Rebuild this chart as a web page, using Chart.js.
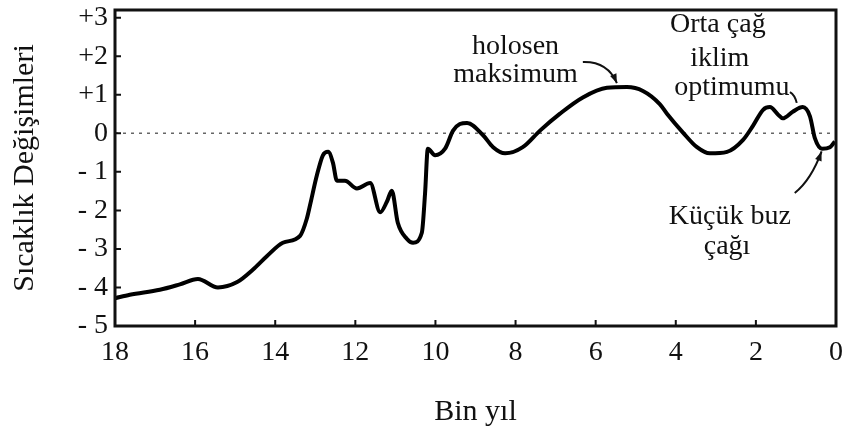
<!DOCTYPE html>
<html>
<head>
<meta charset="utf-8">
<script src="https://cdn.jsdelivr.net/npm/chart.js@4/dist/chart.umd.min.js"></script>
<style>
  html, body { margin: 0; padding: 0; background: #fff; }
  #wrap { width: 843px; height: 445px; }
</style>
</head>
<body>
<div id="wrap"><canvas id="chart"></canvas></div>
<script>
// thousand years before present
const years = [18.00, 17.63, 16.88, 16.38, 15.93, 15.43, 14.95, 14.56, 14.21, 13.81, 13.38, 13.21, 13.13, 12.96,
  12.81, 12.68, 12.56, 12.46, 12.26, 11.96, 11.63, 11.38, 11.21, 11.09, 10.94, 10.71, 10.56, 10.34, 10.26, 10.19,
  10.01, 9.76, 9.56, 9.39, 9.21, 8.81, 8.56, 8.26, 7.82, 7.39, 6.89, 6.32, 5.72, 5.22, 4.82, 4.40, 4.22, 3.82,
  3.47, 3.15, 2.72, 2.32, 2.07, 1.82, 1.65, 1.45, 1.33, 1.08, 0.83, 0.65, 0.53, 0.35, 0.15, 0.03];
// temperature change
const tempChange = [-4.28, -4.19, -4.06, -3.92, -3.78, -4.00, -3.86, -3.54, -3.19, -2.84, -2.66, -2.21, -1.86, -1.09,
  -0.57, -0.48, -0.76, -1.23, -1.23, -1.43, -1.29, -2.05, -1.77, -1.49, -2.32, -2.74, -2.84, -2.58, -1.57, -0.40,
  -0.57, -0.40, 0.07, 0.24, 0.27, -0.05, -0.36, -0.52, -0.36, 0.07, 0.51, 0.93, 1.18, 1.20, 1.10, 0.76, 0.51, 0.02,
  -0.36, -0.52, -0.48, -0.17, 0.20, 0.61, 0.68, 0.49, 0.39, 0.56, 0.68, 0.44, -0.12, -0.40, -0.36, -0.21];

const xTickValues = [18, 16, 14, 12, 10, 8, 6, 4, 2, 0];
const xTickLabels = ['18', '16', '14', '12', '10', '8', '6', '4', '2', '0'];
const yTickValues = [3, 2, 1, 0, -1, -2, -3, -4, -5];
const yTickLabels = ['+3', '+2', '+1', '0', '- 1', '- 2', '- 3', '- 4', '- 5'];

// text notes: [x, y, text]
const notes = [
  [8.0, 2.24, 'holosen'],
  [8.0, 1.51, 'maksimum'],
  [2.95, 2.81, 'Orta çağ'],
  [2.90, 1.95, 'iklim'],
  [2.60, 1.18, 'optimumu'],
  [2.65, -2.17, 'Küçük buz'],
  [2.72, -2.95, 'çağı']
];
// arrows: [x0, y0, cx, cy, x1, y1, head]
const arrows = [
  [6.32, 1.85, 5.70, 1.87, 5.47, 1.30, true],
  [1.15, 1.07, 1.03, 1.00, 0.98, 0.79, false],
  [1.03, -1.55, 0.62, -1.21, 0.36, -0.47, true]
];

const font = 'Liberation Serif';

const extras = {
  id: 'extras',
  afterDraw(chart) {
    const ctx = chart.ctx;
    const a = chart.chartArea;
    const xs = chart.scales.x, ys = chart.scales.y;
    ctx.save();
    ctx.strokeStyle = '#111';
    // inward ticks
    ctx.lineWidth = 2;
    ctx.beginPath();
    xTickValues.forEach(v => {
      const px = xs.getPixelForValue(v);
      ctx.moveTo(px, a.bottom);
      ctx.lineTo(px, a.bottom - 6);
    });
    yTickValues.forEach(v => {
      const py = ys.getPixelForValue(v);
      ctx.moveTo(a.left, py);
      ctx.lineTo(a.left + 6, py);
    });
    ctx.stroke();
    // frame
    ctx.lineWidth = 3;
    ctx.strokeRect(a.left, a.top, a.right - a.left, a.bottom - a.top);

    // notes
    ctx.fillStyle = '#111';
    ctx.font = '28px "' + font + '"';
    ctx.textAlign = 'center';
    ctx.textBaseline = 'middle';
    notes.forEach(n => {
      ctx.fillText(n[2], xs.getPixelForValue(n[0]), ys.getPixelForValue(n[1]));
    });

    // arrows
    ctx.lineWidth = 2;
    arrows.forEach(r => {
      const x0 = xs.getPixelForValue(r[0]), y0 = ys.getPixelForValue(r[1]);
      const cx = xs.getPixelForValue(r[2]), cy = ys.getPixelForValue(r[3]);
      const x1 = xs.getPixelForValue(r[4]), y1 = ys.getPixelForValue(r[5]);
      ctx.beginPath();
      ctx.moveTo(x0, y0);
      ctx.quadraticCurveTo(cx, cy, x1, y1);
      ctx.stroke();
      if (r[6]) {
        const ang = Math.atan2(y1 - cy, x1 - cx);
        ctx.beginPath();
        ctx.moveTo(x1, y1);
        ctx.lineTo(x1 - 10 * Math.cos(ang - 0.35), y1 - 10 * Math.sin(ang - 0.35));
        ctx.lineTo(x1 - 10 * Math.cos(ang + 0.35), y1 - 10 * Math.sin(ang + 0.35));
        ctx.closePath();
        ctx.fill();
      }
    });
    ctx.restore();
  }
};

const ctx = document.getElementById('chart').getContext('2d');
const chart = new Chart(ctx, {
  type: 'line',
  data: {
    datasets: [{
      data: years.map((x, i) => ({ x: x, y: tempChange[i] })),
      borderColor: '#000',
      borderWidth: 4,
      pointRadius: 0,
      tension: 0.4,
      cubicInterpolationMode: 'monotone'
    }, {
      data: [{ x: 18, y: 0 }, { x: 0, y: 0 }],
      borderColor: '#666',
      borderWidth: 1.5,
      borderDash: [3, 5],
      pointRadius: 0
    }]
  },
  options: {
    responsive: true,
    maintainAspectRatio: false,
    animation: false,
    layout: { padding: { top: 10, right: 7, left: 0, bottom: 0 } },
    plugins: { legend: { display: false }, tooltip: { enabled: false } },
    scales: {
      x: {
        type: 'linear',
        reverse: true,
        min: 0,
        max: 18,
        grid: { display: false, drawTicks: false },
        border: { display: false },
        afterBuildTicks: s => { s.ticks = xTickValues.map(v => ({ value: v })); },
        ticks: {
          padding: 10,
          color: '#111',
          maxRotation: 0,
          font: { family: font, size: 28 },
          callback: v => xTickLabels[xTickValues.indexOf(v)]
        },
        title: {
          display: true,
          text: 'Bin yıl',
          color: '#111',
          font: { family: font, size: 30 },
          padding: { top: 0, bottom: 15 }
        },
        afterFit: s => { s.height = 119; s.paddingLeft = 0; s.paddingRight = 0; }
      },
      y: {
        min: -5,
        max: 3.2,
        grid: { display: false, drawTicks: false },
        border: { display: false },
        afterBuildTicks: s => { s.ticks = yTickValues.map(v => ({ value: v })); },
        ticks: {
          padding: 7,
          color: '#111',
          font: { family: font, size: 28 },
          callback: v => yTickLabels[yTickValues.indexOf(v)]
        },
        title: {
          display: true,
          text: 'Sıcaklık Değişimleri',
          color: '#111',
          font: { family: font, size: 30 },
          padding: { top: 7, bottom: 0 }
        },
        afterFit: s => { s.width = 115; s.paddingTop = 0; s.paddingBottom = 0; }
      }
    }
  },
  plugins: [extras]
});
</script>
</body>
</html>
